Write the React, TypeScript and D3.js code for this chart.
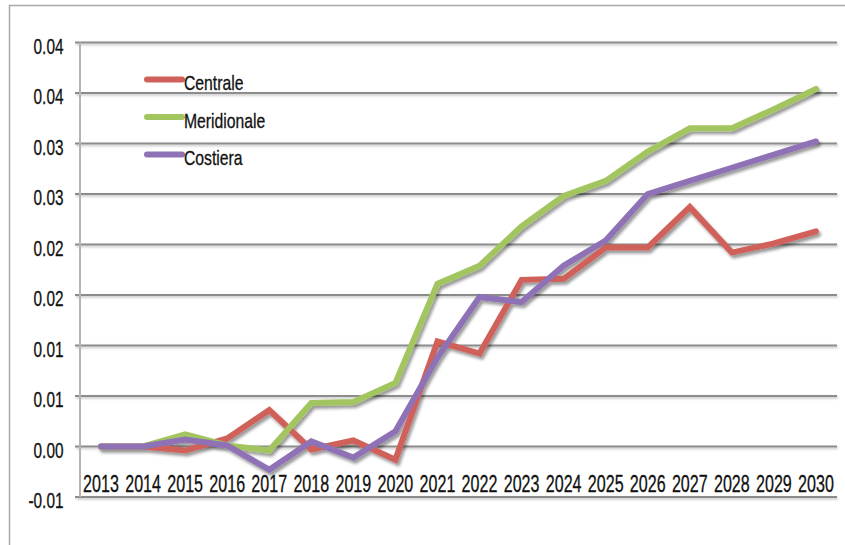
import React from "react";
import * as d3 from "d3";

const years = ["2013","2014","2015","2016","2017","2018","2019","2020","2021","2022","2023","2024","2025","2026","2027","2028","2029","2030"];
const centrale = [0, 0, -0.0004, 0.0008, 0.0036, -0.0003, 0.0006, -0.0013, 0.0104, 0.0092, 0.0165, 0.0166, 0.0197, 0.0197, 0.0237, 0.0192, 0.0201, 0.0213];
const meridionale = [0, 0, 0.0012, 0.0001, -0.0004, 0.0043, 0.0044, 0.0063, 0.0161, 0.0179, 0.0218, 0.0248, 0.0263, 0.0292, 0.0315, 0.0315, 0.0334, 0.0354];
const costiera = [0, 0, 0.0007, 0.0001, -0.0023, 0.0005, -0.0011, 0.0015, 0.0088, 0.0148, 0.0143, 0.0179, 0.0204, 0.025, 0.0263, 0.0276, 0.0289, 0.0302];
const yTicks = [-0.005, 0, 0.005, 0.01, 0.015, 0.02, 0.025, 0.03, 0.035, 0.04];
const yTickLabels = ["-0.01", "0.00", "0.01", "0.01", "0.02", "0.02", "0.03", "0.03", "0.04", "0.04"];
const seriesNames = ["Centrale", "Meridionale", "Costiera"];
const seriesColors = ["#D0615A", "#A3C560", "#8E72B5"];

const FONT = "'Liberation Sans', Arial, sans-serif";
const SX = 0.7;

export default function App() {
  const W = 845, H = 545;
  const left = 80, right = 837, top = 42.5, bottom = 497;
  const x = d3.scaleBand<string>().domain(years).range([left, right]);
  const y = d3.scaleLinear().domain([-0.005, 0.04]).range([bottom, top]);
  const cx = (yr: string) => (x(yr) as number) + x.bandwidth() / 2;
  const line = d3.line<number>().x((_, i) => cx(years[i])).y((v) => y(v));
  const series = [centrale, meridionale, costiera];

  return (
    <svg width={W} height={H} style={{ position: "absolute", left: 0, top: 0, background: "#fff" }}>
      <defs>
        <filter id="sh" x="-10%" y="-10%" width="130%" height="130%">
          <feDropShadow dx="2" dy="3" stdDeviation="1.8" floodColor="#000" floodOpacity="0.4" />
        </filter>
        <filter id="gsh" x="-5%" y="-50%" width="110%" height="300%">
          <feDropShadow dx="1" dy="1.5" stdDeviation="0.8" floodColor="#000" floodOpacity="0.25" />
        </filter>
      </defs>
      <path d={`M9.5,${H} L9.5,5.5 L${W},5.5`} fill="none" stroke="#a8a8a8" strokeWidth={1.5} />
      <g filter="url(#gsh)">
        {yTicks.map((t, i) => (
          <line key={i} x1={left - 5} x2={right} y1={y(t)} y2={y(t)} stroke="#8c8c8c" strokeWidth={2} />
        ))}
      </g>
      <line x1={left} x2={left} y1={top} y2={bottom} stroke="#b4b4b4" strokeWidth={2} />
      {yTicks.map((t, i) => (
        <g key={i} transform={`translate(63.5,${y(t) + 11}) scale(${SX},1)`}>
          <text textAnchor="end" fontFamily={FONT} fontSize={22} fill="#111" stroke="#111" strokeWidth={0.3}>{yTickLabels[i]}</text>
        </g>
      ))}
      {years.map((yr) => (
        <g key={yr} transform={`translate(${cx(yr)},${492}) scale(${SX},1)`}>
          <text textAnchor="middle" fontFamily={FONT} fontSize={23} fill="#111" stroke="#111" strokeWidth={0.3}>{yr}</text>
        </g>
      ))}
      <g filter="url(#sh)">
        {series.map((s, i) => (
          <path key={i} d={line(s) as string} fill="none" stroke={seriesColors[i]} strokeWidth={6} strokeLinejoin="miter" strokeLinecap="round" />
        ))}
      </g>
      {seriesNames.map((n, i) => {
        const ly = 79.5 + i * 37.5;
        return (
          <g key={n}>
            <line x1={147} x2={182} y1={ly} y2={ly} stroke={seriesColors[i]} strokeWidth={6} strokeLinecap="round" />
            <g transform={`translate(184,${ly + 10.5}) scale(0.75,1)`}>
              <text fontFamily={FONT} fontSize={21} fill="#111" stroke="#111" strokeWidth={0.3}>{n}</text>
            </g>
          </g>
        );
      })}
    </svg>
  );
}
